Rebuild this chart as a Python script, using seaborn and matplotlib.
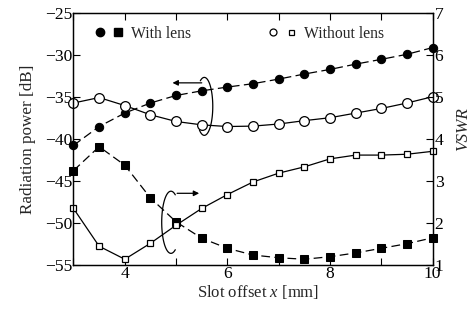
import matplotlib
matplotlib.use("Agg")
import matplotlib.pyplot as plt
import seaborn as sns
import pandas as pd
import numpy as np
from matplotlib.lines import Line2D
from matplotlib.legend_handler import HandlerTuple

# ---- data ----
offset = [3.0, 3.5, 4.0, 4.5, 5.0, 5.5, 6.0, 6.5, 7.0, 7.5, 8.0, 8.5, 9.0, 9.5, 10.0]
power_with = [-40.75, -38.5, -36.9, -35.7, -34.8, -34.25, -33.8, -33.4, -32.85, -32.25,
              -31.7, -31.07, -30.5, -29.9, -29.1]
power_without = [-35.7, -35.05, -36.0, -37.1, -37.9, -38.3, -38.5, -38.45, -38.2, -37.8,
                 -37.45, -36.9, -36.35, -35.7, -34.95]
vswr_with = [3.25, 3.82, 3.38, 2.6, 2.03, 1.64, 1.40, 1.24, 1.175, 1.14, 1.2, 1.29, 1.40,
             1.51, 1.65]
vswr_without = [2.35, 1.45, 1.14, 1.52, 1.95, 2.35, 2.68, 2.98, 3.19, 3.34, 3.53, 3.62,
                3.62, 3.64, 3.71]
x_ticks = [4, 6, 8, 10]
left_ticks = [-25, -30, -35, -40, -45, -50, -55]
right_ticks = [1, 2, 3, 4, 5, 6, 7]
label_with = "With lens"
label_without = "Without lens"

df = pd.DataFrame({"x": offset, "pw": power_with, "pwo": power_without,
                   "vw": vswr_with, "vwo": vswr_without})

sns.set_theme(style="ticks")
plt.rcParams["font.family"] = ["Liberation Serif", "DejaVu Serif"]
plt.rcParams["mathtext.fontset"] = "custom"
plt.rcParams["mathtext.rm"] = "Liberation Serif"
plt.rcParams["mathtext.it"] = "Liberation Serif:italic"

fig = plt.figure(figsize=(4.77, 3.13), dpi=100)
ax = fig.add_axes([0.154, 0.153, 0.753, 0.805])
ax2 = ax.twinx()

lw = 0.9
dash = (0, (7, 3.5))
sns.lineplot(data=df, x="x", y="pw", ax=ax, color="black", lw=lw, marker="o",
             markersize=6, markerfacecolor="black", markeredgecolor="black")
sns.lineplot(data=df, x="x", y="pwo", ax=ax, color="black", lw=lw, marker="o",
             markersize=7, markerfacecolor="white", markeredgecolor="black",
             markeredgewidth=0.9)
sns.lineplot(data=df, x="x", y="vw", ax=ax2, color="black", lw=lw, marker="s",
             markersize=5.2, markerfacecolor="black", markeredgecolor="black")
sns.lineplot(data=df, x="x", y="vwo", ax=ax2, color="black", lw=lw, marker="s",
             markersize=4, markerfacecolor="white", markeredgecolor="black",
             markeredgewidth=0.9)

ax.lines[0].set_linestyle(dash)
ax2.lines[0].set_linestyle(dash)
for l in ax.lines + ax2.lines:
    l.set_clip_on(False)

fs = 12.6
ax.set_xlim(3, 10)
ax.set_ylim(-55, -25)
ax2.set_ylim(1, 7)
ax.set_xticks(x_ticks)
ax.set_xticks(offset[::2], minor=True)
ax.set_yticks(left_ticks)
ax2.set_yticks(right_ticks)
ax.set_xticklabels([str(t) for t in x_ticks], fontsize=fs)
ax.set_yticklabels([f"\u2212{abs(t)}" for t in left_ticks], fontsize=fs)
ax2.set_yticklabels([str(t) for t in right_ticks], fontsize=fs)

ax.tick_params(axis="both", which="both", direction="in", length=5, width=0.8,
               colors="black", top=True, pad=1)
ax.tick_params(axis="y", pad=1)
ax2.tick_params(axis="y", direction="in", length=5, width=0.8, colors="black", pad=1.5)
for a in (ax, ax2):
    for s in a.spines.values():
        s.set_color("black")
        s.set_linewidth(0.9)
        s.set_visible(True)

ax.set_xlabel("Slot offset $x$ [mm]", fontsize=12)
ax.xaxis.set_label_coords(0.515, -0.07)
ax.set_ylabel("Radiation power [dB]", fontsize=12.3)
ax.yaxis.set_label_coords(-0.105, 0.5)
ax2.set_ylabel("VSWR", fontsize=12.3, fontstyle="italic")
ax2.yaxis.set_label_coords(1.062, 0.54)

# annotation brackets (open ellipses) and arrows
def open_ellipse(axis, cx, cy, w, h, t1, t2):
    t = np.radians(np.linspace(t1, t2, 120))
    axis.plot(cx + w / 2 * np.cos(t), cy + h / 2 * np.sin(t), color="black", lw=0.9,
              clip_on=False)

open_ellipse(ax, 5.55, -36.1, 0.33, 6.9, -125, 118)
ax.annotate("", xy=(4.93, -33.3), xytext=(5.5, -33.3),
            arrowprops=dict(arrowstyle="-|>", color="black", lw=0.9,
                            mutation_scale=8, shrinkA=0, shrinkB=0))
open_ellipse(ax, 4.9, -49.9, 0.36, 7.4, 62, 298)
ax2.annotate("", xy=(5.45, 2.71), xytext=(5.02, 2.71),
             arrowprops=dict(arrowstyle="-|>", color="black", lw=0.9,
                             mutation_scale=8, shrinkA=0, shrinkB=0))

# legend
h_with = (Line2D([], [], marker="o", ls="none", ms=6, mfc="black", mec="black"),
          Line2D([], [], marker="s", ls="none", ms=5.2, mfc="black", mec="black"))
h_without = (Line2D([], [], marker="o", ls="none", ms=5, mfc="white", mec="black", mew=0.9),
             Line2D([], [], marker="s", ls="none", ms=3.6, mfc="white", mec="black", mew=0.9))
ax.legend([h_with, h_without], [label_with, label_without],
          handler_map={tuple: HandlerTuple(ndivide=None, pad=0.7)},
          loc="upper left", bbox_to_anchor=(0.063, 0.95), ncol=2, frameon=False,
          fontsize=11.3, handlelength=1.6, handletextpad=0.6, columnspacing=5.0,
          borderpad=0, borderaxespad=0)

fig.savefig("out.png", dpi=100)
